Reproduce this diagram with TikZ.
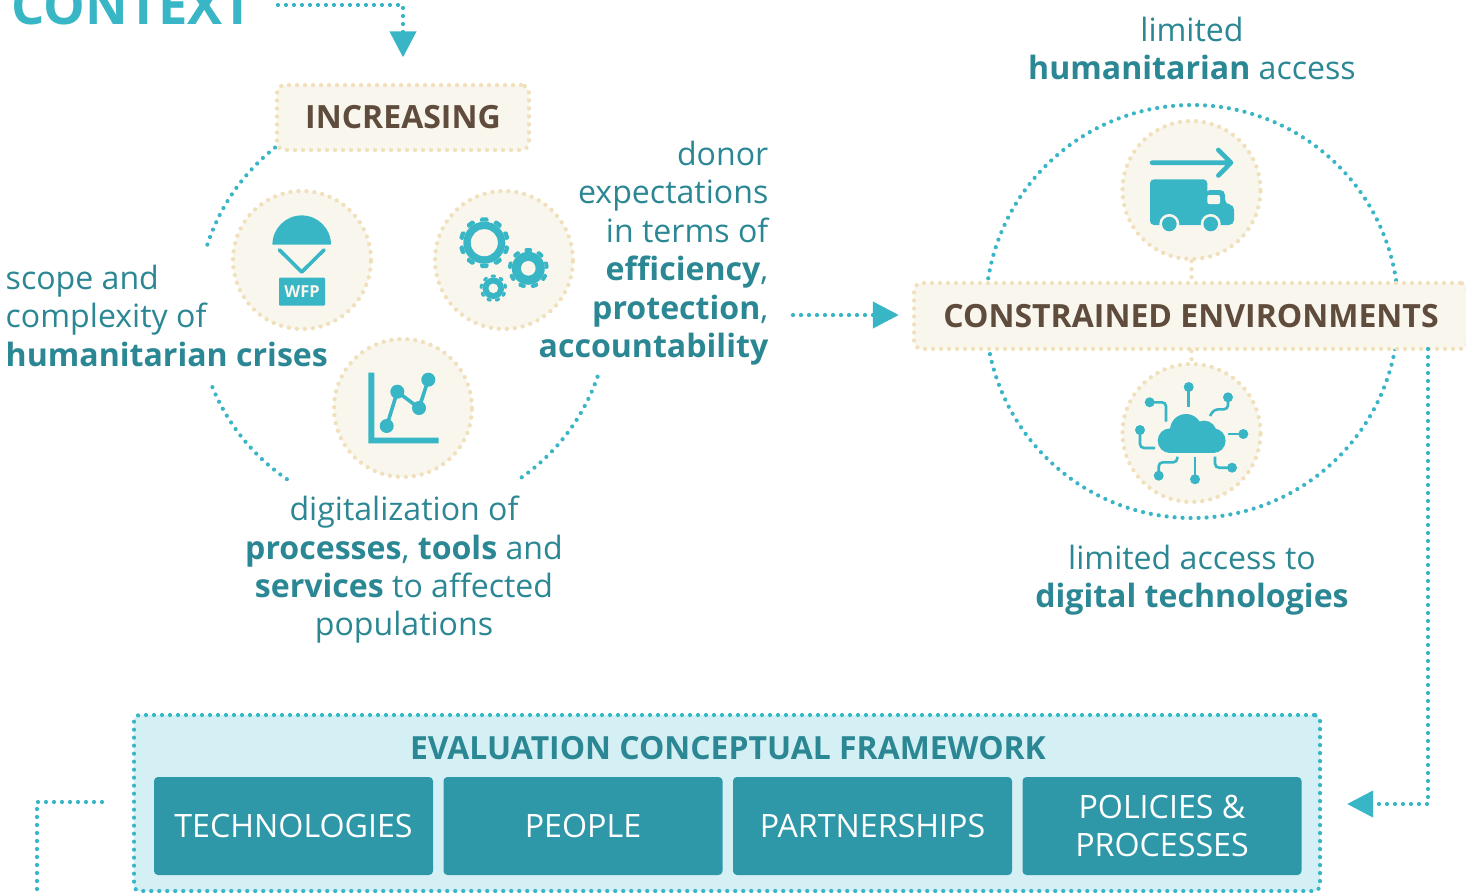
\documentclass[tikz,border=0pt]{standalone}
\usepackage{fontspec}
\setmainfont{Open Sans}
\usetikzlibrary{arrows.meta}
\definecolor{teal}{HTML}{38B6C6}
\definecolor{tealtext}{HTML}{2A8793}
\definecolor{tealbox}{HTML}{2E98A9}
\definecolor{palebox}{HTML}{D5F0F4}
\definecolor{cream}{HTML}{F9F6EE}
\definecolor{beige}{HTML}{F0E0BC}
\definecolor{brown}{HTML}{604C3D}
\tikzset{
  tealdots/.style={draw=teal,line width=4.2pt,line cap=round,dash pattern=on 0pt off 8pt},
  beigedots/.style={draw=beige,line width=4.3pt,line cap=round,dash pattern=on 0pt off 8pt},
  flow/.style={tealdots,-{Triangle[length=26pt,width=26pt,fill=teal]}},
  iconcircle/.style={circle,fill=cream,beigedots,minimum size=138pt,inner sep=0pt},
  label/.style={beigedots,fill=cream,rounded corners=8pt,inner sep=0pt,text=brown,font=\fontsize{32}{38}\selectfont\bfseries},
  body/.style={inner sep=0pt,text=tealtext,font=\fontsize{32.1}{38.4}\selectfont},
  pillar/.style={fill=tealbox,rounded corners=4pt,minimum width=279pt,minimum height=98pt,inner sep=0pt,text=white,align=center,font=\fontsize{32.2}{38.4}\selectfont},
  ico/.style={fill=teal,draw=none},
  icl/.style={draw=teal,line width=2.6pt,rounded corners=4pt}
}
\newcommand{\firstline}{\rule{0pt}{24pt}}
\newcommand{\gearicon}[7]{% x y outer body hole toothhalfwidth list
  \begin{scope}[shift={(#1,#2)}]
    \foreach \a in {#7}{
      \fill[teal,rotate=\a,rounded corners=1pt] (-#6,-#4) -- (-#6*0.8,-#3) -- (#6*0.8,-#3) -- (#6,-#4) -- cycle;
    }
    \fill[teal] (0,0) circle[radius=#4 pt];
    \fill[cream] (0,0) circle[radius=#5 pt];
  \end{scope}}
\begin{document}
\begin{tikzpicture}[x=1pt,y=-1pt]
\useasboundingbox (0,0) rectangle (1466,894);
% large circles
\draw[tealdots] (403,309) ++(128.4:206pt) arc[start angle=128.4,end angle=162.5,radius=206pt];
\draw[tealdots] (403,309) ++(202.3:206pt) arc[start angle=202.3,end angle=236,radius=206pt];
\draw[tealdots] (403,309) ++(-54.8:206pt) arc[start angle=-54.8,end angle=-17.5,radius=206pt];
\draw[tealdots] (1192,311.5) ++(8.7:206.5pt) arc[start angle=8.7,end angle=171.3,radius=206.5pt];
\draw[tealdots] (1192,311.5) ++(-10.5:206.5pt) arc[start angle=-10.5,end angle=-169.5,radius=206.5pt];
% context
\node[anchor=base west,inner sep=0pt,text=teal,font=\fontsize{52.5}{60}\selectfont\bfseries] (context) at (11,24) {CONTEXT};
% labels
\node[label,minimum width=252pt,minimum height=65pt] (increasing) at (403,117.5) {INCREASING};
\node[label,minimum width=554pt,minimum height=66pt] (constrained) at (1191,316) {CONSTRAINED ENVIRONMENTS};
% icon circles
\node[iconcircle] (wfp) at (302,260) {};
\node[iconcircle] (gears) at (504,260) {};
\node[iconcircle] (chart) at (403,408) {};
\node[iconcircle] (truck) at (1191.5,190) {};
\node[iconcircle] (cloud) at (1191.5,433) {};
\draw[beigedots] (truck.south) -- (constrained.north -| truck.south);
\draw[beigedots] (constrained.south -| cloud.north) -- (cloud.north);
% text
\node[body,anchor=north east,align=right] (donor) at (768.5,141) {\firstline donor\\expectations\\in terms of\\\textbf{efficiency},\\\textbf{protection},\\\textbf{accountability}};
\node[body,anchor=north west,align=left] (scope) at (5.5,265) {\firstline scope and\\complexity of\\\textbf{humanitarian crises}};
\node[body,anchor=north,align=center] (digital) at (404,496) {\firstline digitalization of\\\textbf{processes}, \textbf{tools} and\\\textbf{services} to affected\\populations};
\node[body,anchor=north,align=center] (access) at (1192,17) {\firstline limited\\\textbf{humanitarian} access};
\node[body,anchor=north,align=center] (tech) at (1192,545) {\firstline limited access to\\\textbf{digital technologies}};
% framework
\node[tealdots,fill=palebox,rounded corners=6pt,minimum width=1186pt,minimum height=176pt,inner sep=0pt] (framework) at (727,803) {};
\node[inner sep=0pt,anchor=base,text=tealtext,font=\fontsize{31.9}{38}\selectfont\bfseries] (ftitle) at (728,759) {EVALUATION CONCEPTUAL FRAMEWORK};
\node[pillar] (p1) at (293.5,826) {TECHNOLOGIES};
\node[pillar] (p2) at (583,826) {PEOPLE};
\node[pillar] (p3) at (872.5,826) {PARTNERSHIPS};
\node[pillar] (p4) at (1162,826) {POLICIES \&\\PROCESSES};
% connectors
\coordinate (c1) at (278,5);
\coordinate (c2) at (793,315);
\coordinate (c3) at (1428,349);
\coordinate (c4) at (102,802);
\coordinate (c5) at (37,894);
\draw[flow,shorten >=25.5pt] (c1) -| (increasing.north);
\draw[flow,shorten >=13pt] (c2) -- (constrained.west |- c2);
\draw[flow,shorten >=25pt] (c3) |- ([yshift=-1pt]framework.east);
\draw[tealdots] (c4) -| (c5);
% WFP icon
\fill[ico] (272.4,244.7) arc[start angle=180,end angle=0,radius=29.3pt] -- cycle;
\draw[teal,line width=3.6pt,line cap=round,line join=round] (279.5,250) -- (301.7,272) -- (324,250);
\fill[ico,rounded corners=1pt] (279,277.7) rectangle (325,305.7);
\node[inner sep=0pt,text=cream,font=\fontsize{16.5}{18}\selectfont\bfseries] (wfplabel) at (302,292) {WFP};
% gears
\gearicon{484.3}{242.7}{25.3}{21}{13.5}{4.6}{0,36,72,108,144,180,216,252,288,324}
\gearicon{528.3}{268.3}{20.3}{16.5}{7.3}{4}{0,40,80,120,160,200,240,280,320}
\gearicon{493.3}{288.3}{13.7}{10.8}{4.8}{2.8}{0,40,80,120,160,200,240,280,320}
% chart
\fill[ico] (368.3,372.7) -- (374.3,372.7) -- (374.3,437.7) -- (438.7,437.7) -- (438.7,443.3) -- (368.3,443.3) -- cycle;
\draw[teal,line width=3.6pt] (386.7,426) -- (397.3,391.7) -- (419,408) -- (428.3,379.7);
\foreach \p in {(386.7,426),(397.3,391.7),(419,408),(428.3,379.7)}{\fill[teal] \p circle[radius=7pt];}
% truck
\draw[teal,line width=4.6pt,line cap=round,line join=round] (1152,162.7) -- (1231,162.7) (1218.3,150) -- (1231,162.7) -- (1218.3,175.5);
\fill[ico,rounded corners=4pt] (1150,225) -- (1150,179.3) -- (1207.3,179.3) -- (1207.3,225) -- cycle;
\fill[ico,rounded corners=5pt] (1205,225) -- (1205,190) -- (1225,190) -- (1225,204.5) -- (1234,204.5) -- (1234,225) -- cycle;
\fill[cream,rounded corners=2pt] (1207.3,195) -- (1220,195) -- (1220.2,204) -- (1207.3,204) -- cycle;
\fill[cream] (1169.3,224) circle[radius=10pt] (1210.7,224) circle[radius=10pt];
\fill[teal] (1169.3,224) circle[radius=7.3pt] (1210.7,224) circle[radius=7.3pt];
\fill[cream] (1145,225.5) rectangle (1159.5,232) (1180,225.5) rectangle (1200,232) (1221,225.5) rectangle (1238,232);
% cloud
\fill[teal] (1170,440.7) circle[radius=12.3pt] (1213.3,440.7) circle[radius=12.3pt] (1186,430) circle[radius=16pt] (1204,433.3) circle[radius=12.7pt];
\fill[ico] (1170,430) rectangle (1213.3,453);
\draw[icl] (1188.7,387) -- (1188.7,407.3);
\draw[icl] (1228,397.3) -- (1228,409.3) -- (1214,409.3) -- (1210,416);
\draw[icl] (1243.3,434) -- (1228.3,434);
\draw[icl] (1232,467.7) -- (1215,467.7) -- (1215,456.7);
\draw[icl] (1195,479.3) -- (1195,456.7);
\draw[icl] (1158.7,475.7) -- (1158.7,462.3) -- (1177.3,462.3) -- (1177.3,456.7);
\draw[icl] (1140,430) -- (1140,448) -- (1155,448);
\draw[icl] (1149.7,402.3) -- (1166,402.3) -- (1166,421.7);
\foreach \p in {(1188.7,387),(1228,397.3),(1243.3,434),(1232,467.7),(1195,479.3),(1158.7,475.7),(1140,430),(1149.7,402.3)}{\fill[teal] \p circle[radius=5pt];}
\end{tikzpicture}
\end{document}
